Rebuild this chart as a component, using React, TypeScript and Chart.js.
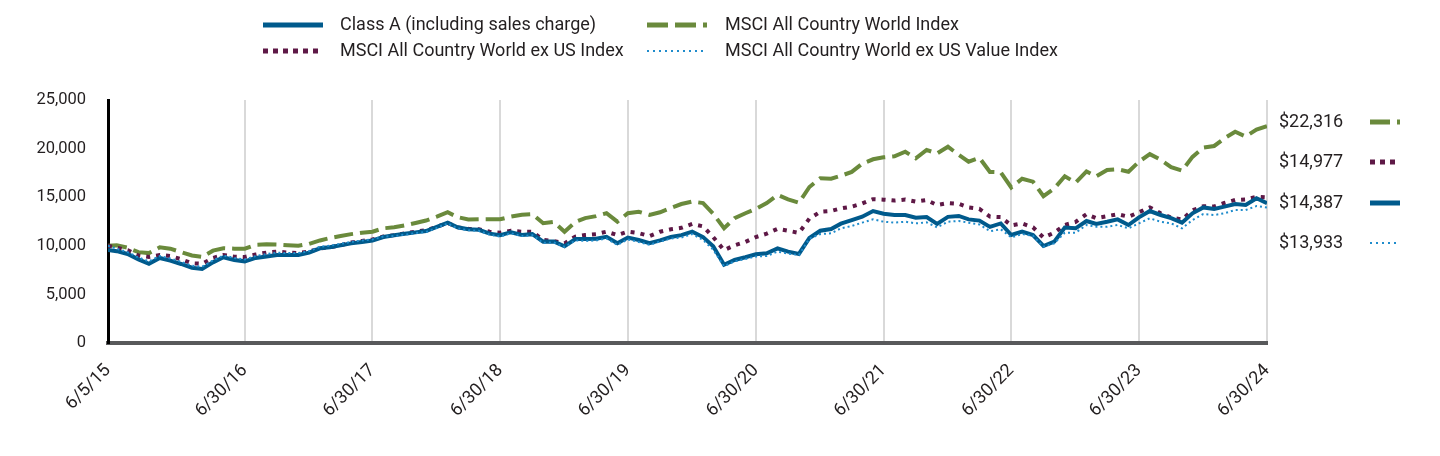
import React, { useEffect, useRef } from 'react';
import { Chart, registerables } from 'chart.js';

Chart.register(...registerables);

// ---------- DATA ----------
const seriesNames = [
  'Class A (including sales charge)',
  'MSCI All Country World Index',
  'MSCI All Country World ex US Index',
  'MSCI All Country World ex US Value Index',
];

const classA = [
  9570, 9450, 9160, 8600, 8150, 8750, 8470, 8130, 7750, 7610,
  8300, 8820, 8540, 8400, 8750, 8900, 9050, 9050, 9050, 9300,
  9740, 9850, 10050, 10250, 10400, 10550, 10900, 11080, 11230, 11380,
  11520, 11950, 12380, 11900, 11700, 11650, 11250, 11100, 11400, 11120,
  11200, 10430, 10450, 9950, 10700, 10700, 10720, 10930, 10260, 10850,
  10600, 10270, 10560, 10900, 11100, 11450, 10900, 9950, 8050, 8540,
  8820, 9130, 9230, 9740, 9400, 9160, 10800, 11550, 11730, 12280,
  12640, 12990, 13570, 13300, 13180, 13170, 12890, 12950, 12250, 12980,
  13070, 12720, 12590, 11950, 12300, 11110, 11450, 11100, 9980, 10420,
  11880, 11800, 12550, 12240, 12470, 12720, 12140, 12930, 13580, 13170,
  12850, 12380, 13340, 13950, 13790, 14030, 14300, 14200, 14890, 14387,
];

const acwi = [
  10000, 10050, 9800, 9350, 9250, 9850, 9700, 9350, 9000, 8850,
  9500, 9750, 9700, 9700, 10100, 10150, 10120, 10050, 10000, 10200,
  10550, 10800, 11000, 11200, 11350, 11450, 11800, 11900, 12100, 12350,
  12600, 13000, 13450, 12950, 12700, 12720, 12730, 12730, 13000, 13200,
  13250, 12320, 12470, 11450, 12450, 12850, 13050, 13350, 12480, 13350,
  13500, 13170, 13450, 13900, 14300, 14550, 14400, 13300, 11800, 12830,
  13350, 13800, 14400, 15230, 14780, 14430, 16050, 16950, 16900, 17200,
  17600, 18450, 18900, 19100, 19200, 19680, 19000, 19860, 19500, 20190,
  19350, 18650, 19050, 17600, 17560, 16000, 16900, 16600, 15100, 15900,
  17150, 16500, 17650, 17150, 17800, 17870, 17620, 18650, 19430, 18850,
  18100, 17730, 19150, 20100, 20270, 21050, 21730, 21250, 21950, 22316,
];

const acwiExUs = [
  10000, 9800, 9550, 9000, 8850, 9050, 8950, 8620, 8200, 8150,
  8750, 9050, 8880, 8850, 9100, 9300, 9400, 9300, 9250, 9400,
  9740, 9850, 10050, 10350, 10500, 10650, 10950, 11100, 11280, 11450,
  11600, 11950, 12350, 11900, 11750, 11700, 11450, 11350, 11550, 11450,
  11450, 10600, 10500, 10250, 10950, 11100, 11200, 11450, 11100, 11450,
  11300, 11000, 11450, 11700, 11850, 12250, 12000, 10900, 9550, 10050,
  10400, 10900, 11250, 11750, 11550, 11330, 12800, 13500, 13580, 13850,
  14030, 14350, 14800, 14750, 14650, 14760, 14550, 14700, 14200, 14400,
  14330, 13950, 13800, 13000, 12950, 12100, 12300, 11900, 10850, 11350,
  12150, 12450, 13250, 12850, 13050, 13250, 12990, 13450, 13950, 13350,
  12900, 12700, 13650, 14080, 14050, 14400, 14720, 14770, 15050, 14977,
];

const acwiExUsValue = [
  10000, 9700, 9350, 8800, 8400, 8950, 8700, 8350, 7950, 7850,
  8500, 9000, 8750, 8600, 8950, 9150, 9300, 9250, 9250, 9450,
  9900, 10000, 10200, 10400, 10550, 10650, 10950, 11000, 11150, 11300,
  11420, 11850, 12300, 11800, 11600, 11550, 11150, 10950, 11300, 11000,
  11100, 10300, 10350, 9900, 10550, 10500, 10550, 10750, 10100, 10650,
  10400, 10100, 10450, 10750, 10850, 11200, 10600, 9600, 7900, 8400,
  8650, 8900, 8950, 9400, 9200, 9050, 10750, 11200, 11280, 11800,
  12040, 12380, 12720, 12480, 12380, 12480, 12310, 12410, 11900, 12480,
  12550, 12380, 12200, 11500, 11700, 10870, 11210, 11040, 9910, 10260,
  11350, 11350, 12140, 11960, 11960, 12140, 11800, 12310, 12830, 12480,
  12310, 11800, 12650, 13270, 13170, 13340, 13680, 13680, 14090, 13933,
];

const tickLabels = ['6/5/15', '6/30/16', '6/30/17', '6/30/18', '6/30/19', '6/30/20', '6/30/21', '6/30/22', '6/30/23', '6/30/24'];
const tickPointIndex = [0, 13, 25, 37, 49, 61, 73, 85, 97, 109];
const endLabels = ['$22,316', '$14,977', '$14,387', '$13,933'];

// ---------- x positions (days since 6/5/15: start, then month-ends) ----------
const START = Date.UTC(2015, 5, 5);
const DAY = 86400000;
const pointDays: number[] = [0];
for (let k = 0; k < 109; k++) {
  const y = 2015 + Math.floor((5 + k) / 12);
  const m = (5 + k) % 12;
  pointDays.push(Math.round((Date.UTC(y, m + 1, 0) - START) / DAY));
}
const tickDays = tickPointIndex.map((i) => pointDays[i]);

// ---------- styles ----------
const BLUE = '#005a8c';
const GREEN = '#6a8a3c';
const PURPLE = '#5e1846';
const LBLUE = '#1f8ccc';
const TEXT = '#231f20';
const FONT = 'Roboto';

const toXY = (arr: number[]) => arr.map((v, i) => ({ x: pointDays[i], y: v }));

const overlayPlugin = {
  id: 'overlayText',
  afterDraw(chart: any) {
    const ctx = chart.ctx as CanvasRenderingContext2D;
    ctx.save();
    const sample = (x1: number, x2: number, y: number, color: string, w: number, dash: number[]) => {
      ctx.beginPath();
      ctx.setLineDash(dash);
      ctx.lineCap = 'butt';
      ctx.strokeStyle = color;
      ctx.lineWidth = w;
      ctx.moveTo(x1, y);
      ctx.lineTo(x2, y);
      ctx.stroke();
    };
    // legend
    ctx.font = `18px ${FONT}`;
    ctx.fillStyle = TEXT;
    ctx.textBaseline = 'middle';
    ctx.textAlign = 'left';
    sample(263, 323, 25, BLUE, 5, []);
    ctx.fillText(seriesNames[0], 340, 25);
    sample(647, 707, 25, GREEN, 5, [21, 7]);
    ctx.fillText(seriesNames[1], 725, 25);
    sample(263, 318, 51, PURPLE, 5, [5, 5]);
    ctx.fillText(seriesNames[2], 340, 51);
    sample(647, 707, 51, LBLUE, 2, [2, 4]);
    ctx.fillText(seriesNames[3], 725, 51);

    // right-hand end values
    const rows = [
      { y: 122, color: GREEN, w: 5, dash: [20, 7] },
      { y: 162, color: PURPLE, w: 5, dash: [5, 5] },
      { y: 203, color: BLUE, w: 5, dash: [] as number[] },
      { y: 243, color: LBLUE, w: 2, dash: [2, 4] },
    ];
    rows.forEach((r, i) => {
      ctx.fillStyle = TEXT;
      ctx.font = `18px ${FONT}`;
      ctx.fillText(endLabels[i], 1279, r.y);
      sample(1370, 1400, r.y, r.color, r.w, r.dash);
    });
    ctx.restore();
  },
};

export default function App() {
  const ref = useRef<HTMLCanvasElement | null>(null);
  useEffect(() => {
    if (!ref.current) return;
    const chart = new Chart(ref.current, {
      type: 'line',
      data: {
        datasets: [
          { label: seriesNames[0], data: toXY(classA), borderColor: BLUE, borderWidth: 4, pointRadius: 0, tension: 0, order: 1 },
          { label: seriesNames[1], data: toXY(acwi), borderColor: GREEN, borderWidth: 4, borderDash: [19, 7], pointRadius: 0, tension: 0, order: 3 },
          { label: seriesNames[2], data: toXY(acwiExUs), borderColor: PURPLE, borderWidth: 4, borderDash: [4, 6], pointRadius: 0, tension: 0, order: 2 },
          { label: seriesNames[3], data: toXY(acwiExUsValue), borderColor: LBLUE, borderWidth: 2, borderDash: [2, 3], pointRadius: 0, tension: 0, order: 0 },
        ] as any,
      },
      options: {
        responsive: false,
        animation: false,
        layout: { padding: { top: 100, right: 173, left: 0, bottom: 0 } },
        plugins: { legend: { display: false }, tooltip: { enabled: false } },
        scales: {
          x: {
            type: 'linear',
            min: 0,
            max: pointDays[pointDays.length - 1],
            afterBuildTicks: (s: any) => {
              s.ticks = tickDays.map((v) => ({ value: v }));
            },
            afterFit: (s: any) => {
              s.height = 113;
            },
            grid: { color: '#d9d9d9', lineWidth: 2, drawTicks: false },
            border: { color: '#58595b', width: 4 },
            ticks: {
              autoSkip: false,
              maxRotation: 45,
              minRotation: 45,
              padding: 17,
              color: TEXT,
              font: { family: FONT, size: 18 },
              callback: (v: any) => {
                const idx = tickDays.indexOf(Number(v));
                return idx >= 0 ? tickLabels[idx] : '';
              },
            },
          },
          y: {
            min: 0,
            max: 25000,
            afterFit: (s: any) => {
              s.width = 108;
            },
            grid: { display: false, drawTicks: false },
            border: { display: true, color: '#000000', width: 3 },
            ticks: {
              stepSize: 5000,
              padding: 22,
              color: TEXT,
              font: { family: FONT, size: 16.5 },
              callback: (v: any) => Number(v).toLocaleString('en-US'),
            },
          },
        } as any,
      },
      plugins: [overlayPlugin],
    });
    return () => chart.destroy();
  }, []);

  return (
    <div style={{ position: 'fixed', left: 0, top: 0, width: 1440, height: 456, background: '#fff' }}>
      <canvas ref={ref} width={1440} height={456} style={{ display: 'block', width: 1440, height: 456 }} />
    </div>
  );
}
